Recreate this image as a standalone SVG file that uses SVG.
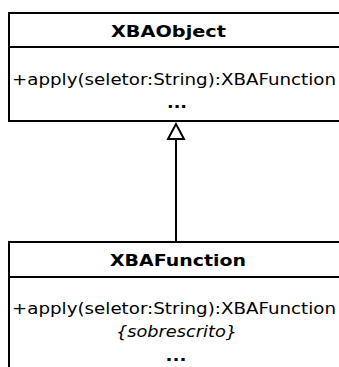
<svg xmlns="http://www.w3.org/2000/svg" width="339" height="367" viewBox="0 0 339 367">
<style>
.box{fill:#fff;stroke:#000;stroke-width:2}
.ln{stroke:#000;stroke-width:2;fill:none}
.t{font-family:"DejaVu Sans",sans-serif;font-size:16.5px;text-anchor:middle;fill:#000}
.b{font-weight:bold}
.i{font-style:italic}
</style>
<g id="connectors">
<line class="ln" x1="176" y1="139" x2="176" y2="242"/>
<polygon points="176,124 168,139 184,139" fill="#fff" stroke="#000" stroke-width="2"/>
</g>
<g id="XBAObject">
<rect class="box" x="9" y="13" width="340" height="108"/>
<line class="ln" x1="9" y1="47" x2="349" y2="47"/>
<text class="t b" x="168.5" y="37" textLength="115" lengthAdjust="spacingAndGlyphs">XBAObject</text>
<text class="t" x="174" y="85" textLength="324" lengthAdjust="spacingAndGlyphs">+apply(seletor:String):XBAFunction</text>
<text class="t b" x="177" y="108" textLength="20" lengthAdjust="spacingAndGlyphs">...</text>
</g>
<g id="XBAFunction">
<rect class="box" x="9" y="242" width="340" height="140"/>
<line class="ln" x1="9" y1="277" x2="349" y2="277"/>
<text class="t b" x="178" y="266" textLength="136" lengthAdjust="spacingAndGlyphs">XBAFunction</text>
<text class="t" x="174" y="314" textLength="324" lengthAdjust="spacingAndGlyphs">+apply(seletor:String):XBAFunction</text>
<text class="t i" x="176.5" y="337" textLength="121" lengthAdjust="spacingAndGlyphs">{sobrescrito}</text>
<text class="t b" x="176" y="361" textLength="21" lengthAdjust="spacingAndGlyphs">...</text>
</g>
</svg>
